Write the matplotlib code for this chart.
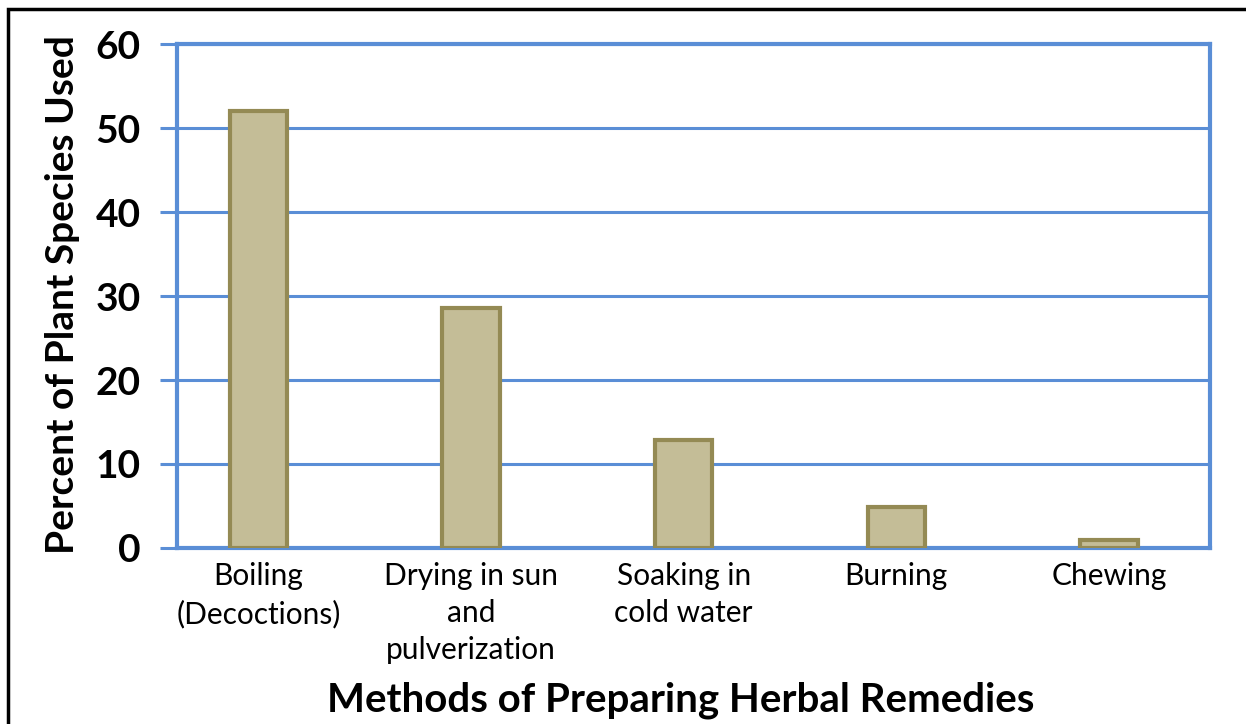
import matplotlib.pyplot as plt
from matplotlib.patches import Rectangle

# chart data
methods = ['Boiling\n(Decoctions)', 'Drying in sun\nand\npulverization',
           'Soaking in\ncold water', 'Burning', 'Chewing']
percents = [52, 28.6, 12.9, 4.9, 1]
yticks = [0, 10, 20, 30, 40, 50, 60]

blue = '#5A8ED6'
fill = '#C4BD97'
edge = '#948A54'

plt.rcParams['font.family'] = ['Lato', 'DejaVu Sans']

fig = plt.figure(figsize=(12.46, 7.24), dpi=100)
ax = fig.add_axes([0.1421, 0.2431, 0.8290, 0.6961])

x = list(range(len(methods)))
ax.bar(x, percents, width=0.27, color=fill, edgecolor=edge, linewidth=3,
       zorder=3)

ax.set_xlim(-0.383, 4.475)
ax.set_ylim(0, 60)
ax.set_yticks(yticks)
ax.set_xticks(x)
ax.set_xticklabels(methods, fontsize=21.5, linespacing=1.4, va='top')
ax.set_yticklabels([str(t) for t in yticks], fontsize=28, fontweight='bold')
ax.tick_params(axis='y', length=12, width=2.2, color=blue, pad=14)
ax.tick_params(axis='x', length=0, pad=10)

ax.yaxis.grid(True, color=blue, linewidth=2.2, zorder=1)
for s in ax.spines.values():
    s.set_color(blue)
    s.set_linewidth(3)
    s.set_zorder(2)

ax.set_ylabel('Percent of Plant Species Used', fontsize=28,
              fontweight='bold', va='center', ha='center')
ax.yaxis.set_label_coords(-0.1113, 0.502)
ax.set_xlabel('Methods of Preparing Herbal Remedies', fontsize=29,
              fontweight='bold', va='center', ha='center')
ax.xaxis.set_label_coords(0.488, -0.303)

# outer frame
fig.patches.append(Rectangle((8 / 1246, -0.05), 1.2, 1 - 9 / 724 + 0.05,
                             transform=fig.transFigure, fill=False,
                             edgecolor='black', linewidth=2.5))

fig.savefig('out.png', dpi=100)
